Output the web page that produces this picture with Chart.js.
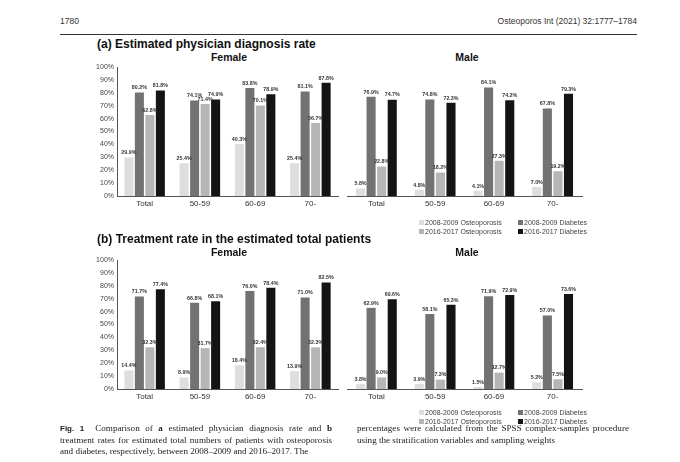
<!DOCTYPE html>
<html>
<head>
<meta charset="utf-8">
<script src="https://cdn.jsdelivr.net/npm/chart.js@4.4.1/dist/chart.umd.min.js"></script>
<style>
  body { margin: 0; width: 680px; height: 462px; background: #fff; position: relative; overflow: hidden;
         font-family: "Liberation Sans", Arial, sans-serif; color: #222; }
  .abs { position: absolute; white-space: nowrap; }
  .pg { font-family: "Liberation Sans Narrow", "Liberation Sans", sans-serif; font-size: 8.5px; color: #333; }
  .rule { position: absolute; left: 60px; top: 34px; width: 577px; height: 1px; background: #333; }
  .head { font-size: 12px; font-weight: bold; color: #111; }
  .sub { font-size: 10.5px; font-weight: bold; color: #111; transform: translateX(-50%); }
  .leg { font-size: 7px; color: #444; }
  .leg i { display: inline-block; width: 5px; height: 5px; margin-right: 1px; vertical-align: 0px; }
  .cap { position: absolute; top: 423px; width: 272px; font-family: "Liberation Serif", "Times New Roman", serif;
         font-size: 9.1px; line-height: 11.6px; text-align: justify; color: #222; }
  .box { position: absolute; }
</style>
</head>
<body>
<div class="abs pg" style="left:60px;top:16px;">1780</div>
<div class="abs pg" style="right:43px;top:16px;">Osteoporos Int (2021) 32:1777–1784</div>
<div class="rule"></div>

<div class="abs head" style="left:97px;top:37px;">(a) Estimated physician diagnosis rate</div>
<div class="abs sub" style="left:229px;top:51px;">Female</div>
<div class="abs sub" style="left:467px;top:51px;">Male</div>
<div class="box" style="left:75px;top:50px;"><canvas id="aF" width="270" height="160"></canvas></div>
<div class="box" style="left:340px;top:50px;"><canvas id="aM" width="250" height="160"></canvas></div>
<div class="abs leg" id="legA" style="left:419px;top:219px;"></div>

<div class="abs head" style="left:97px;top:232px;">(b) Treatment rate in the estimated total patients</div>
<div class="abs sub" style="left:229px;top:246px;">Female</div>
<div class="abs sub" style="left:467px;top:246px;">Male</div>
<div class="box" style="left:75px;top:243px;"><canvas id="bF" width="270" height="160"></canvas></div>
<div class="box" style="left:340px;top:243px;"><canvas id="bM" width="250" height="160"></canvas></div>
<div class="abs leg" id="legB" style="left:419px;top:409px;"></div>

<div class="cap" style="left:60px;"><b style="font-family:'Liberation Sans',sans-serif;font-size:8px;">Fig. 1</b>&nbsp; Comparison of <b>a</b> estimated physician diagnosis rate and <b>b</b> treatment rates for estimated total numbers of patients with osteoporosis and diabetes, respectively, between 2008–2009 and 2016–2017. The</div>
<div class="cap" style="left:357px;">percentages were calculated from the SPSS complex-samples procedure using the stratification variables and sampling weights</div>

<script>
const groups = ['Total', '50-59', '60-69', '70-'];
const seriesNames = ['2008-2009 Osteoporosis', '2008-2009 Diabetes', '2016-2017 Osteoporosis', '2016-2017 Diabetes'];
const seriesColors = ['#dedede', '#727272', '#b6b6b6', '#141414'];

// (a) estimated physician diagnosis rate
const diagFemaleOst0809 = [29.9, 25.4, 40.3, 25.4];
const diagFemaleDia0809 = [80.2, 74.1, 83.8, 81.1];
const diagFemaleOst1617 = [62.8, 71.4, 70.1, 56.7];
const diagFemaleDia1617 = [81.8, 74.9, 78.9, 87.8];

const diagMaleOst0809 = [5.8, 4.8, 4.1, 7.0];
const diagMaleDia0809 = [76.9, 74.8, 84.1, 67.8];
const diagMaleOst1617 = [22.8, 18.2, 27.3, 19.2];
const diagMaleDia1617 = [74.7, 72.3, 74.2, 79.3];

// (b) treatment rate in the estimated total patients
const treatFemaleOst0809 = [14.4, 8.9, 18.4, 13.9];
const treatFemaleDia0809 = [71.7, 66.8, 76.0, 71.0];
const treatFemaleOst1617 = [32.3, 31.7, 32.4, 32.3];
const treatFemaleDia1617 = [77.4, 68.1, 78.4, 82.5];

const treatMaleOst0809 = [3.8, 3.9, 1.5, 5.2];
const treatMaleDia0809 = [62.9, 58.1, 71.9, 57.0];
const treatMaleOst1617 = [9.0, 7.3, 12.7, 7.5];
const treatMaleDia1617 = [69.6, 65.3, 72.9, 73.6];

const yTicks = [0, 10, 20, 30, 40, 50, 60, 70, 80, 90, 100];

// little labels over each bar
const barLabels = {
    id: 'barLabels',
    afterDatasetsDraw(chart) {
        const ctx = chart.ctx;
        ctx.save();
        ctx.font = 'bold 5.3px "Liberation Sans", Arial, sans-serif';
        ctx.fillStyle = '#333';
        ctx.textAlign = 'center';
        ctx.textBaseline = 'bottom';
        chart.data.datasets.forEach((ds, i) => {
            chart.getDatasetMeta(i).data.forEach((bar, j) => {
                ctx.fillText(ds.data[j].toFixed(1) + '%', bar.x, bar.y - 2);
            });
        });
        ctx.restore();
    }
}

const makeChart = (id, series, showY, catPct) => {
    const datasets = series.map((vals, i) => ({
        label: seriesNames[i],
        data: vals,
        backgroundColor: seriesColors[i],
        borderWidth: 0,
        barPercentage: 0.86,
        categoryPercentage: catPct,
    }));
    return new Chart(document.getElementById(id), {
        type: 'bar',
        data: { labels: groups, datasets: datasets },
        plugins: [barLabels],
        options: {
            responsive: false,
            animation: false,
            layout: { padding: showY ? { top: 17, right: 7, left: 0, bottom: 0 } : { top: 17, right: 8, left: 7, bottom: 0 } },
            plugins: { legend: { display: false }, tooltip: { enabled: false } },
            scales: {
                x: {
                    grid: { display: false, drawTicks: false },
                    border: { display: true, color: '#555', width: 1 },
                    ticks: { color: '#333', padding: 3, font: { size: 8, family: 'Liberation Sans' } },
                    afterFit: (s) => { s.height = 14 },
                },
                y: {
                    display: showY,
                    min: 0,
                    max: 100,
                    afterBuildTicks: (s) => { s.ticks = yTicks.map(v => ({ value: v })) },
                    grid: { display: false, drawTicks: false },
                    border: { display: true, color: '#555', width: 1 },
                    ticks: { color: '#444', padding: 3, font: { size: 7, family: 'Liberation Sans' }, callback: v => v + '%' },
                    afterFit: (s) => { s.width = showY ? 42 : 0 },
                },
            },
        },
    });
}

const fillLegend = (id) => {
    const el = document.getElementById(id);
    const order = [[0, 1], [2, 3]];
    el.innerHTML = order.map(row =>
        '<div style="height:9px;">' + row.map((k, c) =>
            '<span style="display:inline-block;width:' + (c === 0 ? 99 : 70) + 'px;"><i style="background:' +
            seriesColors[k] + '"></i>' + seriesNames[k] + '</span>').join('') + '</div>'
    ).join('');
}

makeChart('aF', [diagFemaleOst0809, diagFemaleDia0809, diagFemaleOst1617, diagFemaleDia1617], true, 0.76);
makeChart('aM', [diagMaleOst0809, diagMaleDia0809, diagMaleOst1617, diagMaleDia1617], false, 0.72);
makeChart('bF', [treatFemaleOst0809, treatFemaleDia0809, treatFemaleOst1617, treatFemaleDia1617], true, 0.76);
makeChart('bM', [treatMaleOst0809, treatMaleDia0809, treatMaleOst1617, treatMaleDia1617], false, 0.72);
fillLegend('legA');
fillLegend('legB');
</script>
</body>
</html>
